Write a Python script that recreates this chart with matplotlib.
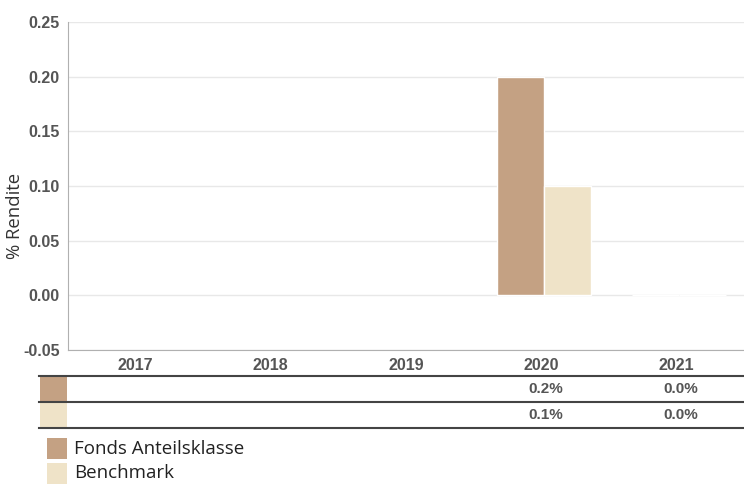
import numpy as np
import matplotlib.pyplot as plt
from matplotlib.patches import Rectangle
from matplotlib.lines import Line2D
from matplotlib.transforms import blended_transform_factory

# chart data
years = ['2017', '2018', '2019', '2020', '2021']
fonds = [np.nan, np.nan, np.nan, 0.2, 0.0]
bench = [np.nan, np.nan, np.nan, 0.1, 0.0]
fonds_txt = ['', '', '', '0.2%', '0.0%']
bench_txt = ['', '', '', '0.1%', '0.0%']
names = ['Fonds Anteilsklasse', 'Benchmark']
colors = ['#C4A183', '#EFE3C8']
yticks = [-0.05, 0.0, 0.05, 0.10, 0.15, 0.20, 0.25]

W, H = 744, 484
def fx(px): return px / W
def fy(py): return 1 - py / H

fig = plt.figure(figsize=(W / 100, H / 100), dpi=100)
ax = fig.add_axes([fx(68), fy(350), fx(744) - fx(68), fy(22) - fy(350)])

x = np.arange(len(years))
bw = 0.35
ax.bar(x - bw / 2 + 0.02, fonds, bw, color=colors[0], edgecolor='white', linewidth=1, zorder=2)
ax.bar(x + bw / 2 + 0.02, bench, bw, color=colors[1], edgecolor='white', linewidth=1, zorder=2)

ax.set_xlim(-0.5, len(years) - 0.5)
ax.set_ylim(-0.05, 0.25)
ax.set_yticks(yticks)
ax.set_yticklabels(['%.2f' % v for v in yticks])
ax.set_xticks(x)
ax.set_xticklabels(years)
ax.grid(axis='y', color='#e8e8e8', linewidth=1, zorder=0)
ax.set_axisbelow(True)
for s in ['top', 'right']:
    ax.spines[s].set_visible(False)
for s in ['left', 'bottom']:
    ax.spines[s].set_color('#b0b0b0')
ax.tick_params(length=0, pad=6)
for lab in ax.get_xticklabels() + ax.get_yticklabels():
    lab.set_fontfamily('Liberation Sans')
    lab.set_fontweight('bold')
    lab.set_fontsize(11.5)
    lab.set_color('#555555')

fig.text(fx(15), fy(216), '% Rendite', rotation=90, ha='center', va='center',
         fontsize=13.3, family='Open Sans', color='#333333')

# table under the chart
for py in [376, 401.5, 428]:
    fig.add_artist(Line2D([fx(39), 1], [fy(py), fy(py)], color='#444444', linewidth=1.5))
rows = [(fonds_txt, 389, 377, 400.5), (bench_txt, 415, 402.5, 427)]
tr = blended_transform_factory(ax.transData, fig.transFigure)
for i, (txts, ty, top, bot) in enumerate(rows):
    fig.add_artist(Rectangle((fx(40), fy(bot)), fx(67) - fx(40), fy(top) - fy(bot),
                             transform=fig.transFigure, color=colors[i], linewidth=0))
    for xi, t in zip(x, txts):
        ax.text(xi + 0.03, fy(ty), t, transform=tr, ha='center', va='center',
                fontsize=11, fontweight='bold', family='Liberation Sans', color='#555555')

# legend
for i, (n, c) in enumerate(zip(names, colors)):
    top = 437.5 + i * 25
    fig.add_artist(Rectangle((fx(47), fy(top + 21)), fx(20), 21 / H,
                             transform=fig.transFigure, color=c, linewidth=0))
    fig.text(fx(74), fy(top + 11), n, ha='left', va='center', fontsize=13.5,
             family='Open Sans', color='#222222')

fig.savefig('out.png')
